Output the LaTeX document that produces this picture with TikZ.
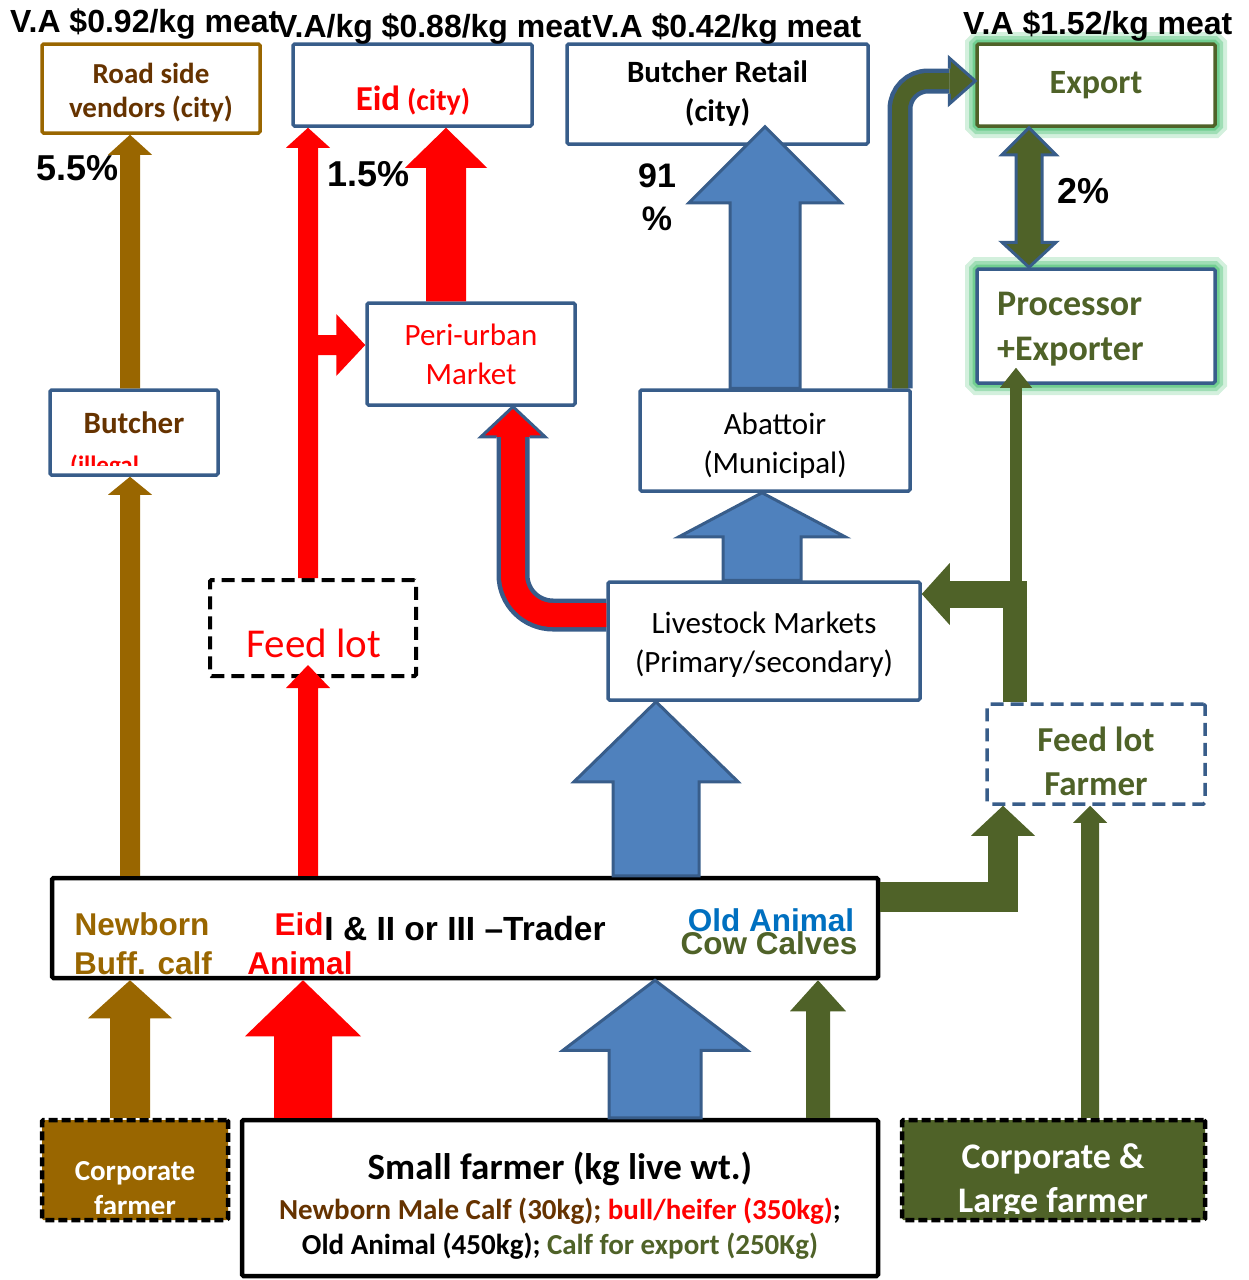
\documentclass[tikz,border=0pt]{standalone}
\usepackage{fontspec}
\setmainfont{Carlito}
\newfontfamily\arialbf{Liberation Sans}
\usetikzlibrary{calc}
\definecolor{boxblue}{RGB}{56,93,138}
\definecolor{arrblue}{RGB}{79,129,189}
\definecolor{buffbrown}{RGB}{153,102,0}
\definecolor{darkbrown}{RGB}{102,51,0}
\definecolor{expgreen}{RGB}{79,98,40}
\definecolor{glowgreen}{RGB}{80,195,120}
\definecolor{oldblue}{RGB}{0,112,192}

\newcommand{\upblock}[6]{%
  \path[#1] let \p1=#2, \p2=#3 in
    (\x2,\y2) -- (\x2+#5,\y2-#6) -- (\x2+#4,\y2-#6) -- (\x2+#4,\y1)
    -- (\x2-#4,\y1) -- (\x2-#4,\y2-#6) -- (\x2-#5,\y2-#6) -- cycle;}

\begin{document}
\begin{tikzpicture}[x=1pt,y=-1pt,
  box/.style={draw=boxblue,line width=3.5pt,fill=white,align=center,inner sep=0pt,rounded corners=1.5pt},
  blackbox/.style={box,draw=black,line width=4.5pt},
  dashbox/.style={box,dash pattern=on 13pt off 7pt},
  glow/.style={preaction={draw=glowgreen,line width=24pt,opacity=.25},preaction={draw=glowgreen,line width=16pt,opacity=.4},preaction={draw=glowgreen,line width=9pt,opacity=.6}},
  valabel/.style={font=\arialbf\bfseries\fontsize{32}{36}\selectfont,anchor=base west,inner sep=0pt},
  pct/.style={font=\arialbf\bfseries\fontsize{36}{43}\selectfont,anchor=base west,inner sep=0pt,align=center},
  tradetxt/.style={font=\arialbf\bfseries\fontsize{31.5}{36}\selectfont,inner sep=0pt},
  brownarr/.style={fill=buffbrown},
  redarr/.style={fill=red},
  greenarr/.style={fill=expgreen},
  bluearr/.style={fill=arrblue,draw=boxblue,line width=3pt},
  shaft/.style={draw=boxblue,line width=4.5pt}]
\useasboundingbox (0,0) rectangle (1248,1280);

\node[box,draw=buffbrown,minimum width=218pt,minimum height=89pt] (road) at (151,88.5) {};
\node[text=darkbrown,font=\bfseries\fontsize{29}{34}\selectfont,align=center,inner sep=0pt] (roadtxt) at (151,93) {Road side\\vendors (city)};
\node[box,minimum width=239pt,minimum height=82pt] (eid) at (412.5,85) {};
\node[text=red,font=\bfseries\fontsize{30}{36}\selectfont,inner sep=0pt] (eidtxt) at (413,101) {{\fontsize{35}{40}\selectfont Eid} (city)};
\node[box,minimum width=301pt,minimum height=100pt,font=\bfseries\fontsize{31}{39}\selectfont] (retail) at (717.5,94) {Butcher Retail\\(city)};
\node[box,draw=expgreen,glow,minimum width=238pt,minimum height=82pt,text=expgreen,font=\bfseries\fontsize{34}{40}\selectfont] (export) at (1096,85) {Export};
\node[box,glow,minimum width=238pt,minimum height=114pt] (proc) at (1096,326) {};
\node[text=expgreen,font=\bfseries\fontsize{36}{45}\selectfont,align=left,anchor=west,inner sep=0pt] (proctxt) at (997,329) {Processor\\+Exporter};

\node[box,minimum width=168pt,minimum height=85pt] (butcher) at (134,432.5) {};
\node[text=darkbrown,font=\bfseries\fontsize{31}{36}\selectfont,inner sep=0pt] (butchertxt) at (134,423) {Butcher};
\begin{scope}
\clip (butcher.north west) rectangle ($(butcher.south east)+(0,-11)$);
\node[text=red,font=\bfseries\fontsize{25}{30}\selectfont,anchor=base west,inner sep=0pt] (illegal) at (70,473) {(illegal};
\end{scope}

\node[box,minimum width=208pt,minimum height=102pt,text=red,font=\fontsize{31}{39}\selectfont] (peri) at (471,354) {Peri-urban\\Market};
\node[box,minimum width=270pt,minimum height=101pt] (abattoir) at (775,440.5) {};
\node[font=\fontsize{31}{39}\selectfont,align=center,inner sep=0pt] (abattoirtxt) at (775,445.5) {Abattoir\\(Municipal)};
\node[box,dashbox,draw=black,line width=4pt,minimum width=206pt,minimum height=96pt] (feedlot) at (313,628) {};
\node[text=red,font=\fontsize{41}{46}\selectfont,inner sep=0pt] (feedlottxt) at (314,643) {Feed lot};
\node[box,minimum width=312pt,minimum height=118pt] (market) at (764,641) {};
\node[font=\fontsize{31}{39}\selectfont,align=center,inner sep=0pt] (markettxt) at (764,645) {Livestock Markets\\(Primary/secondary)};
\node[box,dashbox,minimum width=218pt,minimum height=100pt] (flfarmer) at (1096,754) {};
\node[text=expgreen,font=\bfseries\fontsize{35}{44}\selectfont,align=center,inner sep=0pt] (flfarmertxt) at (1096,761) {Feed lot\\Farmer};

\node[blackbox,minimum width=826pt,minimum height=100pt] (trader) at (465,928) {};
\node[tradetxt,text=buffbrown] (newborn) at (142,924) {Newborn};
\node[tradetxt,text=buffbrown] (buffcalf) at (143,963) {Buff. calf};
\node[tradetxt,text=red] (eidanimal) at (299,924) {Eid};
\node[tradetxt,font=\arialbf\bfseries\fontsize{33.5}{38}\selectfont] (tradertxt) at (465,929) {I \& II or III –Trader};
\node[tradetxt,text=red] (animal) at (300,963) {Animal};
\node[tradetxt,text=oldblue] (oldanimal) at (771,920) {Old Animal};
\node[tradetxt,text=expgreen] (cowcalves) at (769,943) {Cow Calves};

\node[box,draw=black,fill=buffbrown,line width=4.5pt,dash pattern=on 9pt off 4pt,minimum width=186pt,minimum height=100pt] (corp) at (135,1170) {};
\begin{scope}
\clip (corp.north west) rectangle ($(corp.south east)+(0,-9)$);
\node[text=white,font=\bfseries\fontsize{29}{35}\selectfont,align=center,inner sep=0pt] (corptxt) at (135,1189) {Corporate\\farmer};
\end{scope}
\node[blackbox,minimum width=636pt,minimum height=156pt] (small) at (560,1198) {};
\node[font=\bfseries\fontsize{29}{35}\selectfont,align=center,inner sep=0pt] (smalltxt) at (560,1206) {{\fontsize{37}{42}\selectfont Small farmer (kg live wt.)}\\[5pt]{\color{darkbrown}Newborn Male Calf (30kg);} {\color{red}bull/heifer (350kg)};\\Old Animal (450kg); {\color{expgreen}Calf for export (250Kg)}};
\node[box,draw=black,fill=expgreen,line width=4.5pt,dash pattern=on 9pt off 4pt,minimum width=303pt,minimum height=100pt] (corplarge) at (1053.5,1170) {};
\begin{scope}
\clip (corplarge.north west) rectangle ($(corplarge.south east)+(0,-9)$);
\node[text=white,font=\bfseries\fontsize{36}{44}\selectfont,align=center,inner sep=0pt] (corplargetxt) at (1053,1181) {Corporate \&\\Large farmer};
\end{scope}

\node[valabel] (va1) at (10,32) {V.A \$0.92/kg meat};
\node[valabel] (va2) at (276,37) {V.A/kg \$0.88/kg meat};
\node[valabel] (va3) at (592,37) {V.A \$0.42/kg meat};
\node[valabel] (va4) at (963,34) {V.A \$1.52/kg meat};
\node[pct] (p55) at (36,180) {5.5\%};
\node[pct] (p15) at (327,186) {1.5\%};
\node[pct,anchor=center,font=\arialbf\bfseries\fontsize{34}{43}\selectfont] (p91) at (657,197) {91\\\%};
\node[pct] (p2) at (1057,203) {2\%};

\upblock{brownarr}{(130,0 |- corp.north)}{(130,0 |- trader.south)}{20pt}{42pt}{38pt}
\upblock{brownarr}{(130,0 |- trader.north)}{(130,0 |- butcher.south)}{10pt}{22pt}{18pt}
\upblock{brownarr}{(130,0 |- butcher.north)}{(130,0 |- road.south)}{10pt}{22pt}{20pt}

\upblock{redarr}{(303,0 |- small.north)}{(303,0 |- trader.south)}{29pt}{58pt}{56pt}
\upblock{redarr}{(308,0 |- trader.north)}{($(308,0 |- feedlot.south)+(0,-13)$)}{10pt}{22pt}{23pt}
\path[redarr] let \p1=(308,0 |- feedlot.north), \p2=(308,0 |- eid.south), \p3=([yshift=9pt]peri.west) in
  (\x1-10pt,\y1) -- (\x1-10pt,\y2-20pt) -- (\x1-22pt,\y2-20pt) -- (\x2,\y2) -- (\x1+22pt,\y2-20pt)
  -- (\x1+10pt,\y2-20pt) -- (\x1+10pt,\y3+10pt) -- (\x3-29pt,\y3+10pt) -- (\x3-29pt,\y3+31pt) -- (\x3,\y3)
  -- (\x3-29pt,\y3-31pt) -- (\x3-29pt,\y3-10pt) -- (\x1+10pt,\y3-10pt) -- (\x1+10pt,\y1) -- cycle;
\upblock{redarr}{(446,0 |- peri.north)}{(446,0 |- eid.south)}{20pt}{41pt}{40pt}
\draw[shaft,double=red,double distance=24pt,rounded corners=40pt] (market.west |- 0,615) -| ($(513,0 |- peri.south)+(0,30)$);
\path[fill=red,draw=boxblue,line width=3pt] let \p1=(513,0 |- peri.south) in
  (\x1-16.5pt,\y1-30pt) -- (\x1-32pt,\y1-30pt) -- (\x1,\y1) -- (\x1+32pt,\y1-30pt) -- (\x1+16.5pt,\y1-30pt);

\upblock{bluearr}{(655,0 |- small.north)}{(655,0 |- trader.south)}{46pt}{92pt}{70pt}
\upblock{bluearr}{(656,0 |- trader.north)}{(656,0 |- market.south)}{43pt}{82pt}{80pt}
\upblock{bluearr}{(762,0 |- market.north)}{(762,0 |- abattoir.south)}{39pt}{83pt}{44pt}
\upblock{bluearr}{(765,0 |- abattoir.north)}{($(765,0 |- retail.south)+(0,-19)$)}{35pt}{76pt}{76pt}

\upblock{greenarr}{(818,0 |- small.north)}{(818,0 |- trader.south)}{12pt}{28pt}{31pt}
\upblock{greenarr}{(1090,0 |- corplarge.north)}{(1090,0 |- flfarmer.south)}{9pt}{17pt}{17pt}
\draw[expgreen,line width=30pt] (trader.east |- 0,897) -| ($(1003,0 |- flfarmer.south)+(0,29)$);
\path[greenarr] let \p1=(1003,0 |- flfarmer.south) in (\x1,\y1) -- (\x1+32pt,\y1-30pt) -- (\x1-32pt,\y1-30pt) -- cycle;
\coordinate (fork) at (1015,594);
\draw[expgreen,line width=24pt] (fork |- flfarmer.north) -- (fork |- 0,581);
\draw[expgreen,line width=27pt] ($(fork)+(12,0)$) -- ($(market.east |- fork)+(28,0)$);
\path[greenarr] let \p1=(market.east |- fork) in (\x1,\y1) -- (\x1+28pt,\y1+31pt) -- (\x1+28pt,\y1-31pt) -- cycle;
\draw[expgreen,line width=12pt] ($(fork)+(1,-13)$) -- ($(1016,0 |- proc.south)+(0,3)$);
\path[greenarr] let \p1=($(1016,0 |- proc.south)+(0,-17)$) in (\x1,\y1) -- (\x1+16pt,\y1-20pt) -- (\x1-16pt,\y1-20pt) -- cycle;
\draw[shaft,double=expgreen,double distance=16pt,rounded corners=28pt] (900,0 |- abattoir.north) |- ($(export.west)+(-26,-4)$);
\path[fill=expgreen,draw=boxblue,line width=3pt] let \p1=($(export.west)+(0,-4)$) in
  (\x1-26pt,\y1+12.5pt) -- (\x1-26pt,\y1+23pt) -- (\x1,\y1) -- (\x1-26pt,\y1-23pt) -- (\x1-26pt,\y1-12.5pt);
\path[fill=expgreen,draw=boxblue,line width=3pt] let \p1=(1029,0 |- export.south), \p2=(1029,0 |- proc.north) in
  (\x1,\y1) -- (\x1+27pt,\y1-27pt) -- (\x1+13pt,\y1-27pt) -- (\x1+13pt,\y2+25pt) -- (\x1+27pt,\y2+25pt) -- (\x1,\y2)
  -- (\x1-27pt,\y2+25pt) -- (\x1-13pt,\y2+25pt) -- (\x1-13pt,\y1-27pt) -- (\x1-27pt,\y1-27pt) -- cycle;
\end{tikzpicture}
\end{document}
